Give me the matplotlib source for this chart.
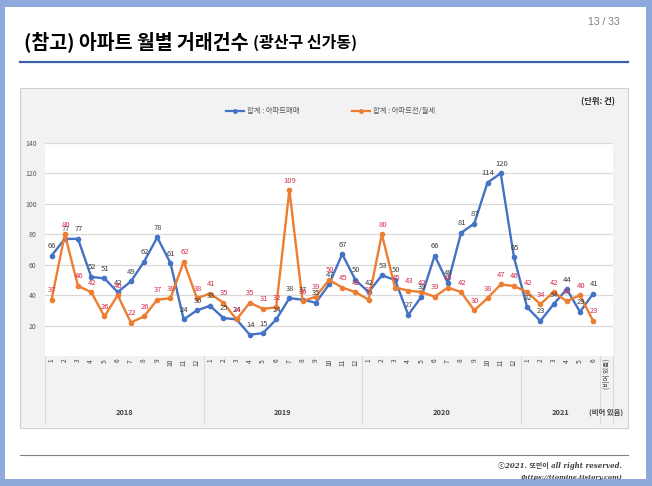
import matplotlib
matplotlib.use("Agg")
import matplotlib.pyplot as plt
from matplotlib.patches import Rectangle
from matplotlib.lines import Line2D
import matplotlib.transforms as mtransforms
from matplotlib.transforms import Bbox

plt.rcParams['font.family'] = ['Noto Sans CJK KR', 'DejaVu Sans']

# ---------------- data ----------------
years = ['2018', '2019', '2020', '2021', '(비어 있음)']
year_counts = [12, 12, 12, 6, 1]
month_labels = [str(m) for m in range(1, 13)] * 3 + [str(m) for m in range(1, 7)] + ['(비어 있음)']
series_names = ['합계 : 아파트매매', '합계 : 아파트전/월세']
sales = [66, 77, 77, 52, 51, 42, 49, 62, 78, 61, 24, 30,
         33, 25, 24, 14, 15, 24, 38, 37, 35, 47, 67, 50,
         42, 53, 50, 27, 39, 66, 48, 81, 87, 114, 120, 65,
         32, 23, 34, 44, 29, 41]
rent = [37, 80, 46, 42, 26, 40, 22, 26, 37, 38, 62, 38,
        41, 35, 24, 35, 31, 32, 109, 36, 39, 50, 45, 42,
        37, 80, 45, 43, 42, 39, 45, 42, 30, 38, 47, 46,
        42, 34, 42, 36, 40, 23]
y_ticks = [20, 40, 60, 80, 100, 120, 140]

W, H = 652, 486
def fx(x): return x / W
def fy(y): return 1 - y / H

fig = plt.figure(figsize=(W / 100, H / 100), dpi=100)

# slide frame
fig.patches.append(Rectangle((0, 0), 1, 1, transform=fig.transFigure,
                             facecolor='#8EA9DB', edgecolor='none', zorder=-3))
fig.patches.append(Rectangle((fx(5), fy(479)), fx(646) - fx(5), fy(7) - fy(479),
                             transform=fig.transFigure, facecolor='white',
                             edgecolor='none', zorder=-2))

# title
fig.text(fx(24), fy(48), '(참고) 아파트 월별 거래건수', fontsize=14, fontweight='bold',
         color='black', ha='left', va='baseline')
fig.text(fx(253), fy(48), '(광산구 신가동)', fontsize=11.5, fontweight='bold',
         color='black', ha='left', va='baseline')
fig.text(fx(620), fy(25), '13 / 33', fontsize=7.5, color='#7F7F7F',
         ha='right', va='baseline', family=['Liberation Sans', 'DejaVu Sans'])
fig.add_artist(Line2D([fx(20), fx(628)], [fy(62), fy(62)], transform=fig.transFigure,
                      color='#3F5FA8', lw=1.6))

# chart box
fig.patches.append(Rectangle((fx(20), fy(428)), fx(628) - fx(20), fy(88) - fy(428),
                             transform=fig.transFigure, facecolor='#F2F2F2',
                             edgecolor='#D0D0D0', lw=0.8, zorder=-1))

# plot area
ax = fig.add_axes([fx(45), fy(356), fx(613) - fx(45), fy(143) - fy(356)])
ax.set_zorder(1)
ax.set_facecolor('white')
for s in ax.spines.values():
    s.set_visible(False)
n = len(month_labels)
ax.set_xlim(-0.5, n - 0.5)
ax.set_ylim(0, 140)
ax.set_yticks(y_ticks)
ax.set_yticklabels([str(v) for v in y_ticks], fontsize=5, color='#595959')
ax.tick_params(axis='y', length=0, pad=6)
ax.grid(axis='y', color='#D9D9D9', lw=0.9)
ax.set_axisbelow(True)
ax.set_xticks(range(n))
ax.set_xticklabels(month_labels, rotation=90, fontsize=4.8, color='#404040')
ax.tick_params(axis='x', length=0, pad=2)

x = list(range(len(sales)))
ax.plot(x, sales, color='#4472C4', lw=1.7, marker='o', markersize=3, zorder=3)
ax.plot(x, rent, color='#ED7D31', lw=1.7, marker='o', markersize=3, zorder=4)

for i, v in enumerate(sales):
    ax.annotate(str(v), (i, v), xytext=(0.5, 4), textcoords='offset points',
                ha='center', va='bottom', fontsize=5.5, color='#404040', zorder=6)
for i, v in enumerate(rent):
    ax.annotate(str(v), (i, v), xytext=(0.5, 4), textcoords='offset points',
                ha='center', va='bottom', fontsize=5.5, color='#D6304E', zorder=7)

# category group axis
blend = mtransforms.blended_transform_factory(ax.transData, fig.transFigure)
chart_bbox = Bbox.from_extents(fx(20) * W, fy(428) * H, fx(628) * W, fy(88) * H)
pos = -0.5
for yr, c in zip(years, year_counts):
    fig.add_artist(Line2D([pos, pos], [fy(356), fy(423)], transform=blend,
                          color='#D9D9D9', lw=0.8))
    t = fig.text(pos + c / 2, fy(412), yr, transform=blend, fontsize=5.3,
                 fontweight='bold', color='#404040', ha='center', va='center')
    t.set_clip_box(chart_bbox)
    t.set_clip_on(True)
    pos += c
fig.add_artist(Line2D([pos, pos], [fy(356), fy(423)], transform=blend,
                      color='#D9D9D9', lw=0.8))

# legend
colors = ['#4472C4', '#ED7D31']
lx = [226, 352]
for name, col, x0 in zip(series_names, colors, lx):
    fig.add_artist(Line2D([fx(x0), fx(x0 + 18)], [fy(111), fy(111)],
                          transform=fig.transFigure, color=col, lw=1.6))
    fig.add_artist(Line2D([fx(x0 + 9)], [fy(111)], transform=fig.transFigure,
                          color=col, marker='o', markersize=2.5, lw=0))
    fig.text(fx(x0 + 21), fy(111), name, fontsize=5.3, color='#595959',
             ha='left', va='center')
fig.text(fx(615), fy(102), '(단위: 건)', fontsize=6, fontweight='bold',
         color='#262626', ha='right', va='center')

# footer
fig.add_artist(Line2D([fx(20), fx(628)], [fy(455), fy(455)], transform=fig.transFigure,
                      color='#7F7F7F', lw=0.8))
fig.text(fx(622), fy(466), 'ⓒ2021. 또민이 all right reserved.', fontsize=5,
         style='italic', fontweight='bold', color='#404040', ha='right', va='center',
         family=['DejaVu Serif', 'Noto Sans CJK KR'])
fig.text(fx(622), fy(477), '(https://ttomine.tistory.com)', fontsize=4.6,
         style='italic', fontweight='bold', color='#404040', ha='right', va='center',
         family=['DejaVu Serif', 'Noto Sans CJK KR'])

fig.savefig('out.png', dpi=100)
